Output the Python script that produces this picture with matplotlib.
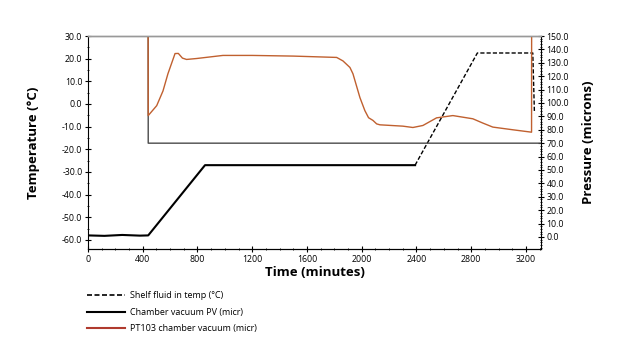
import numpy as np
import matplotlib
matplotlib.use("Agg")
import matplotlib.pyplot as plt
from matplotlib.ticker import MultipleLocator, FormatStrFormatter

# shelf fluid inlet temperature (degC) vs time (min)
temp_t = [0, 120, 250, 380, 440, 855, 1400, 2000, 2390, 2845, 3000, 3250, 3262]
temp_v = [-58, -58.2, -57.8, -58.1, -58, -27, -27, -27, -27, 22.5, 22.5, 22.5, -4]
temp_split = 2390  # after this the series is drawn dashed (sparser points)

# chamber vacuum PV (microns), off-scale before pump down
pv_t = [0, 437, 440, 800, 1600, 2400, 3310]
pv_v = [1000, 1000, 70, 70, 70, 70, 70]

# PT103 chamber vacuum (microns)
pt_t = [0, 432, 440, 502, 548, 584, 636, 660, 690, 720, 794, 986, 1200, 1500,
        1817, 1863, 1914, 1936, 1987, 2023, 2050, 2082, 2109, 2133, 2301, 2374,
        2447, 2547, 2666, 2812, 2885, 2958, 3104, 3241, 3248]
pt_v = [1000, 1000, 90.6, 98, 109, 121.8, 136.9, 137, 133.5, 132.5, 133.2, 135.5,
        135.5, 135, 134, 131.4, 126.5, 121.8, 104, 94.3, 89, 87, 84.4, 83.7, 82.7,
        81.7, 83.2, 88.9, 90.6, 88.2, 85, 82, 80, 78.2, 1000]

plt.rcParams['font.family'] = ['Open Sans', 'DejaVu Sans']

fig = plt.figure(figsize=(6.2, 3.57), dpi=100)
ax = fig.add_axes([88/620, 1-249/357, (541-88)/620, (249-36)/357])
ax2 = ax.twinx()

tt = np.array(temp_t, dtype=float)
tv = np.array(temp_v, dtype=float)
solid = tt <= temp_split
dash = tt >= temp_split
ax.plot(tt[solid], tv[solid], color='black', lw=1.5)
l1, = ax.plot(tt[dash], tv[dash], color='black', lw=1.0, ls=(0, (3, 1.5)))

ax2.plot(pv_t, pv_v, color='#4a4a4a', lw=1.0)
ax2.plot(pt_t, pt_v, color='#c0602f', lw=1.0)
l1_leg = plt.Line2D([], [], color='black', lw=1.2, ls=(0, (3, 1.5)))
l2 = plt.Line2D([], [], color='black', lw=1.5)
l3 = plt.Line2D([], [], color='#b03a2e', lw=1.5)

ax.set_xlim(0, 3310)
ax.set_ylim(-64, 30)
ax2.set_ylim(-9, 150)

ax.xaxis.set_major_locator(MultipleLocator(400))
ax.xaxis.set_minor_locator(MultipleLocator(100))
ax.yaxis.set_major_locator(MultipleLocator(10))
ax.yaxis.set_minor_locator(MultipleLocator(5))
ax2.yaxis.set_major_locator(MultipleLocator(10))
ax2.yaxis.set_minor_locator(MultipleLocator(2))
ax.yaxis.set_major_formatter(FormatStrFormatter('%.1f'))
ax2.yaxis.set_major_formatter(FormatStrFormatter('%.1f'))

for a in (ax, ax2):
    a.tick_params(which='major', direction='inout', length=4, width=0.8, labelsize=6.3, pad=2)
    a.tick_params(which='minor', direction='inout', length=2, width=0.6)
    a.spines['top'].set_color('#999999')
    a.spines['top'].set_linewidth(1.0)
ax.spines['right'].set_visible(False)
ax2.spines['left'].set_visible(False)

lab = dict(fontsize=9.5, fontweight='bold')
ax.set_xlabel('Time (minutes)', labelpad=2, **lab)
ax.set_ylabel('Temperature (\u00b0C)', labelpad=16, **lab)
ax2.set_ylabel('Pressure (microns)', labelpad=9, **lab)

fig.legend([l1_leg, l2, l3],
           ['Shelf fluid in temp (\u00b0C)', 'Chamber vacuum PV (micr)',
            'PT103 chamber vacuum (micr)'],
           loc='upper left', bbox_to_anchor=(87/620, 1-291/357), frameon=False,
           fontsize=6.5, handlelength=4.2, handletextpad=0.55, labelspacing=0.85,
           borderpad=0, borderaxespad=0)

fig.savefig('out.png', dpi=100)
